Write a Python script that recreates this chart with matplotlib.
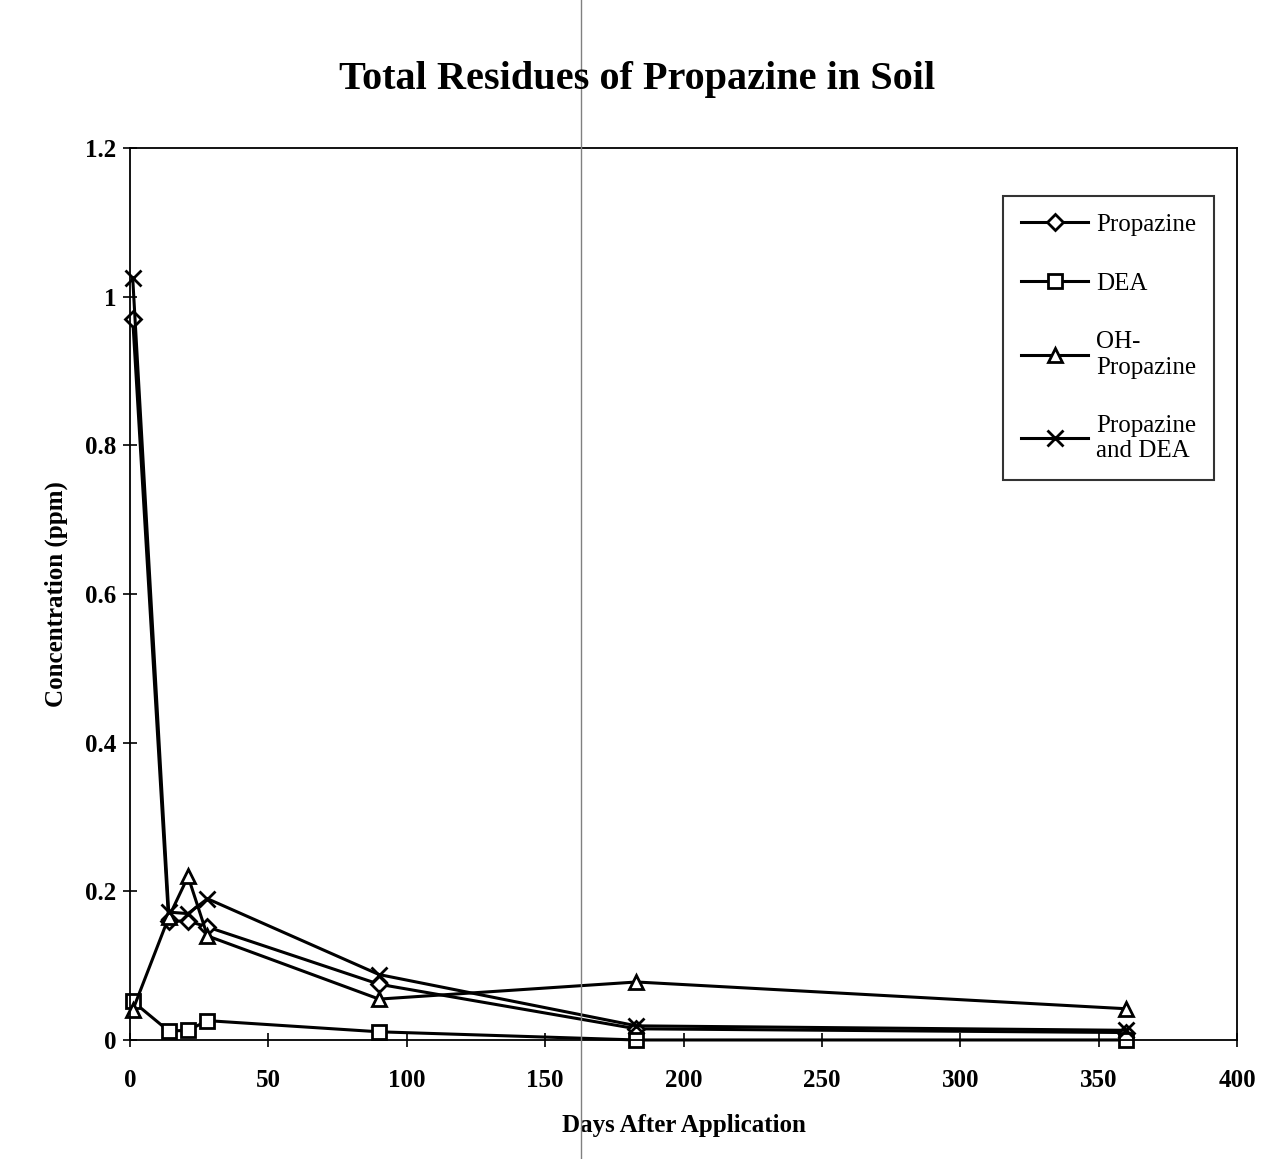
import matplotlib.pyplot as plt
from matplotlib.lines import Line2D

# days after application and residue values (ppm)
days = [1, 14, 21, 28, 90, 183, 360]
propazine = [0.97, 0.16, 0.16, 0.152, 0.075, 0.015, 0.01]
dea = [0.052, 0.012, 0.013, 0.026, 0.011, 0.0, 0.0]
oh_propazine = [0.04, 0.165, 0.22, 0.14, 0.055, 0.078, 0.042]
propazine_dea = [1.025, 0.172, 0.17, 0.19, 0.088, 0.019, 0.013]

labels = ["Propazine", "DEA", "OH-\nPropazine", "Propazine\nand DEA"]
markers = ["D", "s", "^", "x"]
x_ticks = [0, 50, 100, 150, 200, 250, 300, 350, 400]
y_ticks = [0, 0.2, 0.4, 0.6, 0.8, 1.0, 1.2]
y_tick_labels = ["0", "0.2", "0.4", "0.6", "0.8", "1", "1.2"]

plt.rcParams['font.family'] = ['Liberation Serif', 'DejaVu Serif']

fig = plt.figure(figsize=(12.74, 11.59), dpi=100)
ax = fig.add_axes([0.102, 0.1027, 0.869, 0.7696])

series = [propazine, dea, oh_propazine, propazine_dea]
sizes = [8, 10, 10, 12]
for vals, m, lab, ms in zip(series, markers, labels, sizes):
    ax.plot(days, vals, color='black', lw=2.2, marker=m, markersize=ms,
            markerfacecolor='white', markeredgecolor='black',
            markeredgewidth=2.0, label=lab, clip_on=False)

ax.set_xlim(0, 400)
ax.set_ylim(0, 1.2)
ax.set_xticks(x_ticks)
ax.set_xticklabels([str(t) for t in x_ticks], fontsize=18, fontweight='bold')
ax.set_yticks(y_ticks)
ax.set_yticklabels(y_tick_labels, fontsize=18, fontweight='bold')
ax.tick_params(direction='inout', length=10, width=1.2)
ax.tick_params(axis='x', pad=16)
ax.tick_params(axis='y', pad=5)
for s in ax.spines.values():
    s.set_linewidth(1.3)

ax.set_xlabel("Days After Application", fontsize=18, fontweight='bold', labelpad=16)
ax.set_ylabel("Concentration (ppm)", fontsize=18, fontweight='bold', labelpad=12)
fig.suptitle("Total Residues of Propazine in Soil", fontsize=29,
             fontweight='bold', y=0.947)

leg = ax.legend(loc='upper left', bbox_to_anchor=(0.789, 0.946), fontsize=18,
                frameon=True, fancybox=False, edgecolor='black',
                labelspacing=1.45, handlelength=2.7, handletextpad=0.3,
                borderpad=0.7, borderaxespad=0)
leg.get_frame().set_linewidth(1.5)

# faint vertical fold line from the scanned page
fig.add_artist(Line2D([0.456, 0.456], [0, 1], color='gray', lw=1))

fig.savefig("out.png", dpi=100)
